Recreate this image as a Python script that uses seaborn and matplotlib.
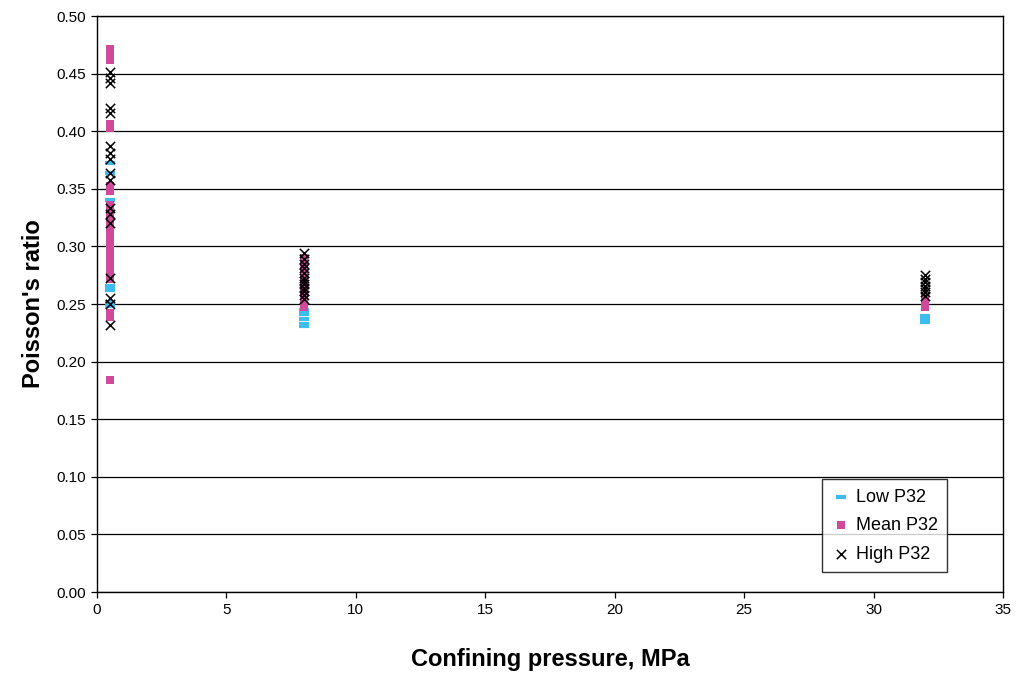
import matplotlib
matplotlib.use("Agg")
import matplotlib.pyplot as plt
import seaborn as sns
import pandas as pd

# Data (confining pressure MPa -> Poisson's ratio values)
low_x05 = [0.372, 0.364, 0.340, 0.266, 0.262, 0.252, 0.248]
mean_x05 = [0.471, 0.468, 0.465, 0.462, 0.406, 0.403, 0.352, 0.348, 0.336, 0.333,
            0.330, 0.326, 0.322, 0.318, 0.314, 0.310, 0.306, 0.302, 0.298,
            0.294, 0.290, 0.286, 0.282, 0.278, 0.275, 0.272, 0.242, 0.239, 0.184]
high_x05 = [0.451, 0.446, 0.442, 0.420, 0.416, 0.387, 0.381, 0.376, 0.364, 0.358,
            0.333, 0.328, 0.320, 0.273, 0.255, 0.250, 0.232]

low_x8 = [0.245, 0.241, 0.237, 0.233, 0.231]
mean_x8 = [0.290, 0.286, 0.282, 0.278, 0.274, 0.270, 0.266, 0.262, 0.258, 0.254, 0.250, 0.247]
high_x8 = [0.294, 0.289, 0.285, 0.281, 0.277, 0.273, 0.270, 0.267, 0.264, 0.261, 0.258, 0.254]

low_x32 = [0.240, 0.237, 0.234]
mean_x32 = [0.255, 0.252, 0.249, 0.247]
high_x32 = [0.275, 0.272, 0.269, 0.266, 0.263, 0.260, 0.257]

pressures = [0.5, 8, 32]
series_names = ["Low P32", "Mean P32", "High P32"]

def build(groups):
    xs, ys = [], []
    for p, vals in zip(pressures, groups):
        xs += [p] * len(vals)
        ys += vals
    return pd.DataFrame({"x": xs, "y": ys})

df_low = build([low_x05, low_x8, low_x32])
df_mean = build([mean_x05, mean_x8, mean_x32])
df_high = build([high_x05, high_x8, high_x32])

sns.set_style("white")
plt.rcParams['font.family'] = ['Liberation Sans', 'DejaVu Sans']
plt.rcParams['text.color'] = 'black'
plt.rcParams['axes.labelcolor'] = 'black'
plt.rcParams['xtick.color'] = 'black'
plt.rcParams['ytick.color'] = 'black'

fig = plt.figure(figsize=(10.16, 6.73), dpi=100)
ax = fig.add_axes([97/1016, 1 - 592/673, (1003-97)/1016, (592-16)/673])

sns.scatterplot(data=df_low, x="x", y="y", ax=ax, marker="_", s=55,
                color="#3DBDEE", linewidth=3, label=series_names[0], zorder=3)
sns.scatterplot(data=df_mean, x="x", y="y", ax=ax, marker="s", s=40,
                color="#D04A9C", linewidth=0, label=series_names[1], zorder=4)
sns.scatterplot(data=df_high, x="x", y="y", ax=ax, marker="x", s=45,
                color="black", linewidth=1.1, label=series_names[2], zorder=5)

ax.set_xlim(0, 35)
ax.set_ylim(0, 0.5)
ax.set_xticks(range(0, 36, 5))
ax.set_yticks([i * 0.05 for i in range(11)])
ax.set_yticklabels([f"{i*0.05:.2f}" for i in range(11)])
ax.yaxis.grid(True, color="black", linewidth=0.9)
ax.xaxis.grid(False)
ax.set_axisbelow(True)
for sp in ax.spines.values():
    sp.set_color("black")
    sp.set_linewidth(1.0)
ax.tick_params(axis="both", which="both", direction="out", length=4, width=0.9,
               color="black", labelcolor="black", labelsize=11, bottom=True, left=True, pad=4)

ax.set_xlabel("Confining pressure, MPa", fontsize=17, fontweight="bold", labelpad=22, color="black")
ax.set_ylabel("Poisson's ratio", fontsize=17, fontweight="bold", labelpad=8, color="black")

leg = ax.legend(loc="lower right", bbox_to_anchor=((947-97)/906, 20/576),
                frameon=True, fancybox=False, fontsize=13, handletextpad=0.3,
                handlelength=1.1, borderpad=0.5, labelspacing=0.65, borderaxespad=0)
leg.get_frame().set_edgecolor("black")
leg.get_frame().set_linewidth(1.0)
for t in leg.get_texts():
    t.set_color("black")

fig.savefig("out.png", dpi=100)
